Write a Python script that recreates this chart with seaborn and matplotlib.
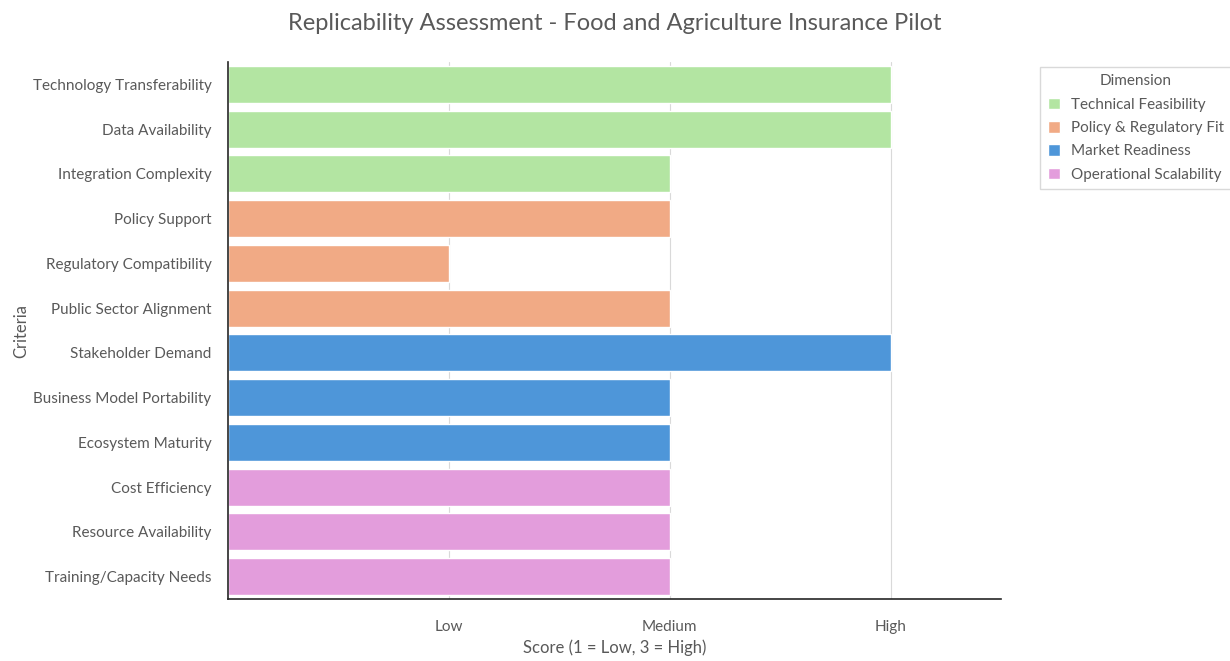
import pandas as pd
import matplotlib.pyplot as plt
import seaborn as sns
from matplotlib.patches import Patch

criteria = ['Technology Transferability', 'Data Availability', 'Integration Complexity',
            'Policy Support', 'Regulatory Compatibility', 'Public Sector Alignment',
            'Stakeholder Demand', 'Business Model Portability', 'Ecosystem Maturity',
            'Cost Efficiency', 'Resource Availability', 'Training/Capacity Needs']
scores = [3, 3, 2, 2, 1, 2, 3, 2, 2, 2, 2, 2]
dimensions = ['Technical Feasibility'] * 3 + ['Policy & Regulatory Fit'] * 3 + \
             ['Market Readiness'] * 3 + ['Operational Scalability'] * 3
dim_order = ['Technical Feasibility', 'Policy & Regulatory Fit', 'Market Readiness', 'Operational Scalability']
dim_colors = ['#b3e5a2', '#f1aa85', '#4e96d9', '#e39ddc']
score_ticks = [1, 2, 3]
score_labels = ['Low', 'Medium', 'High']

df = pd.DataFrame({'criteria': criteria, 'score': scores, 'dimension': dimensions})

sns.set_style("white")
plt.rcParams['font.family'] = ['Lato', 'DejaVu Sans']
txt = '#595959'

fig = plt.figure(figsize=(12.3, 6.61), dpi=100)
ax = fig.add_axes([0.1854, 0.0938, 0.6285, 0.8124])

sns.barplot(data=df, y='criteria', x='score', hue='dimension', hue_order=dim_order,
            palette=dim_colors, dodge=False, width=0.83, orient='h', ax=ax, legend=False,
            saturation=1)

ax.set_xlim(0, 3.5)
ax.set_ylim(11.5, -0.5)
ax.set_xticks(score_ticks)
ax.set_xticklabels(score_labels)
ax.xaxis.grid(True, color='#d9d9d9', linewidth=0.8)
ax.set_axisbelow(True)
sns.despine(ax=ax)
for s in ['left', 'bottom']:
    ax.spines[s].set_color('#262626')
    ax.spines[s].set_linewidth(1.2)
ax.tick_params(axis='x', direction='in', length=4, pad=15, labelsize=11, labelcolor=txt, color='#262626')
ax.tick_params(axis='y', direction='in', length=4, pad=12, labelsize=11, labelcolor=txt, color='#262626')

ax.set_xlabel('Score (1 = Low, 3 = High)', fontsize=12, color=txt, labelpad=4)
ax.set_ylabel('Criteria', fontsize=12, color=txt, labelpad=2)
fig.suptitle('Replicability Assessment - Food and Agriculture Insurance Pilot',
             x=0.5, y=0.98, fontsize=17, color=txt)

handles = [Patch(facecolor=c, label=d) for c, d in zip(dim_colors, dim_order)]
leg = fig.legend(handles=handles, title='Dimension', loc='upper left',
                 bbox_to_anchor=(0.8455, 0.899), borderaxespad=0, fontsize=11, title_fontsize=11,
                 frameon=True, edgecolor='#d0d0d0', fancybox=False, borderpad=0.5,
                 handlelength=0.8, handleheight=0.8, handletextpad=0.7, labelspacing=0.6)
for t in leg.get_texts():
    t.set_color(txt)
leg.get_title().set_color(txt)

fig.savefig('out.png', dpi=100)
